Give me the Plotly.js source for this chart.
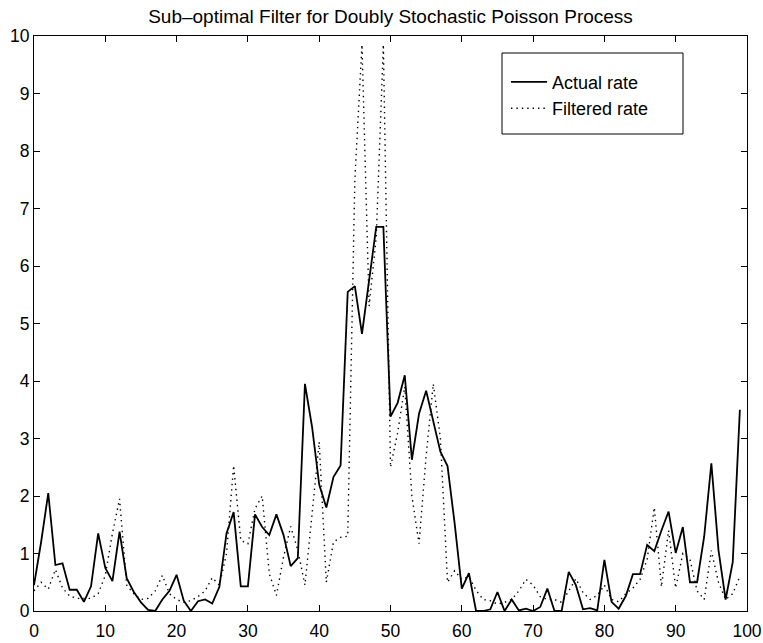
<!DOCTYPE html>
<html>
<head>
<meta charset="utf-8">
<script src="https://cdn.plot.ly/plotly-3.0.1.min.js"></script>
<style>html,body{margin:0;padding:0;background:#fff;}#chart{width:763px;height:643px;}</style>
</head>
<body>
<div id="chart"></div>
<script>
// time index 0..99
const timeSteps = Array.from({length: 100}, (_, i) => i);

const actualRate = [
  0.45, 1.2, 2.05, 0.8, 0.83, 0.37, 0.37, 0.16, 0.43, 1.35,
  0.75, 0.52, 1.38, 0.57, 0.33, 0.15, 0.02, 0.0, 0.2, 0.35,
  0.63, 0.18, 0.0, 0.17, 0.2, 0.13, 0.42, 1.35, 1.72, 0.43,
  0.43, 1.68, 1.46, 1.32, 1.68, 1.32, 0.78, 0.92, 3.95, 3.2,
  2.2, 1.8, 2.33, 2.53, 5.55, 5.65, 4.82, 5.75, 6.68, 6.68,
  3.38, 3.62, 4.1, 2.63, 3.43, 3.83, 3.32, 2.77, 2.52, 1.52,
  0.39, 0.66, 0.0, 0.0, 0.03, 0.33, 0.0, 0.2, 0.01, 0.04,
  0.0, 0.07, 0.39, 0.0, 0.0, 0.68, 0.45, 0.03, 0.05, 0.01,
  0.89, 0.16, 0.04, 0.26, 0.64, 0.64, 1.15, 1.04, 1.4, 1.73,
  1.01, 1.46, 0.5, 0.5, 1.3, 2.57, 1.06, 0.2, 0.85, 3.5
];

const filteredRate = [
  0.35, 0.5, 0.38, 0.72, 0.4, 0.26, 0.22, 0.22, 0.22, 0.3,
  0.62, 1.35, 1.95, 0.45, 0.3, 0.2, 0.22, 0.35, 0.62, 0.3,
  0.2, 0.15, 0.18, 0.25, 0.35, 0.58, 0.45, 1.0, 2.53, 1.23,
  1.17, 1.78, 2.0, 0.65, 0.27, 0.94, 1.47, 1.06, 0.45, 1.69,
  2.94, 0.5, 1.2, 1.28, 1.3, 7.5, 9.85, 5.3, 6.5, 9.85,
  2.5, 3.1, 3.9, 2.0, 1.17, 2.7, 3.95, 3.0, 0.5, 0.7,
  0.55, 0.6, 0.36, 0.2, 0.18, 0.12, 0.15, 0.2, 0.35, 0.55,
  0.45, 0.25, 0.2, 0.2, 0.15, 0.35, 0.56, 0.32, 0.2, 0.27,
  0.45, 0.2, 0.16, 0.3, 0.4, 0.55, 0.9, 1.8, 0.42, 1.4,
  0.4, 1.0, 0.9, 0.35, 0.2, 1.05, 0.5, 0.2, 0.3, 0.6
];

const seriesNames = ['Actual rate', 'Filtered rate'];
const xTicks = [0, 10, 20, 30, 40, 50, 60, 70, 80, 90, 100];
const yTicks = [0, 1, 2, 3, 4, 5, 6, 7, 8, 9, 10];
const chartTitle = 'Sub\u2013optimal Filter for Doubly Stochastic Poisson Process';

const FONT = 'Liberation Sans, Arial, Helvetica, sans-serif';

const traces = [
  {
    x: timeSteps, y: actualRate, name: seriesNames[0],
    type: 'scatter', mode: 'lines',
    line: {color: '#000', width: 1.8},
    cliponaxis: true
  },
  {
    x: timeSteps, y: filteredRate, name: seriesNames[1],
    type: 'scatter', mode: 'lines',
    line: {color: '#000', width: 1.4, dash: '1.4px,4px'},
    cliponaxis: true
  }
];

const axisCommon = {
  showgrid: false, zeroline: false,
  showline: true, linecolor: '#000', linewidth: 1,
  mirror: 'ticks', ticks: 'inside', ticklen: 6, tickwidth: 1, tickcolor: '#000',
  tickfont: {family: FONT, size: 17.5, color: '#000'}
};

const layout = {
  width: 763, height: 643,
  margin: {l: 34, r: 16, t: 36, b: 32, pad: 0},
  paper_bgcolor: '#fff', plot_bgcolor: '#fff',
  title: {
    text: chartTitle,
    font: {family: FONT, size: 19, color: '#000'},
    x: 0.5, xref: 'paper', xanchor: 'center',
    y: 1 - 16 / 643, yref: 'container', yanchor: 'middle'
  },
  xaxis: Object.assign({}, axisCommon, {
    range: [0, 100], tickmode: 'array', tickvals: xTicks, ticktext: xTicks.map(String),
    ticklabelstandoff: 4
  }),
  yaxis: Object.assign({}, axisCommon, {
    range: [0, 10], tickmode: 'array', tickvals: yTicks, ticktext: yTicks.map(String)
  }),
  showlegend: true,
  legend: {
    x: 0.662, xanchor: 'left', y: 0.952, yanchor: 'top',
    bgcolor: 'rgba(0,0,0,0)', borderwidth: 0,
    font: {family: FONT, size: 18, color: '#000'},
    itemwidth: 36
  },
  shapes: [
    {type: 'rect', xref: 'paper', yref: 'paper',
     x0: (502 - 34) / 713, x1: (683 - 34) / 713,
     y0: (611 - 134) / 575, y1: (611 - 53) / 575,
     line: {color: '#000', width: 1}, fillcolor: '#fff', layer: 'above'}
  ]
};

Plotly.newPlot('chart', traces, layout, {displayModeBar: false, staticPlot: true});
</script>
</body>
</html>
